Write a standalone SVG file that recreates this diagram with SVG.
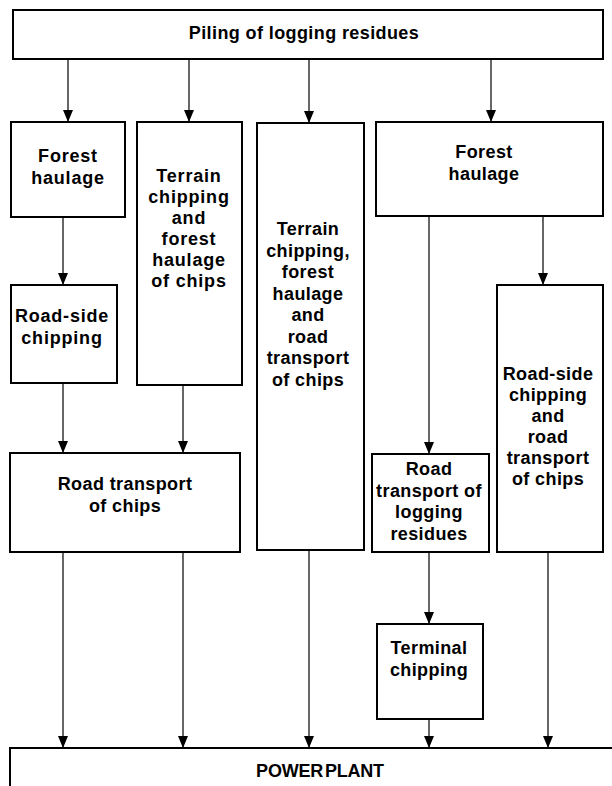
<svg xmlns="http://www.w3.org/2000/svg" width="612" height="786" viewBox="0 0 612 786">
<style>
.box{fill:#fff;stroke:#000;stroke-width:2}
.t{font-family:"Liberation Sans",Arial,sans-serif;font-weight:bold;font-size:18px;text-anchor:middle;fill:#000;letter-spacing:0.4px}
.w{letter-spacing:0.8px}
.c{stroke:#000;stroke-width:1.2;fill:none;marker-end:url(#ah)}
</style>
<defs>
<marker id="ah" viewBox="0 0 12 10" refX="12" refY="5" markerWidth="12" markerHeight="10" markerUnits="userSpaceOnUse" orient="auto">
<path d="M0,0 L12,5 L0,10 z" fill="#000"/>
</marker>
</defs>
<rect width="612" height="786" fill="#fff"/>
<g id="connectors">
<line class="c" x1="68" y1="59" x2="68" y2="122"/>
<line class="c" x1="189" y1="59" x2="189" y2="122"/>
<line class="c" x1="309" y1="59" x2="309" y2="123"/>
<line class="c" x1="491" y1="59" x2="491" y2="122"/>
<line class="c" x1="63" y1="217" x2="63" y2="285"/>
<line class="c" x1="63" y1="383" x2="63" y2="453"/>
<line class="c" x1="183" y1="385" x2="183" y2="453"/>
<line class="c" x1="429" y1="216" x2="429" y2="454"/>
<line class="c" x1="543" y1="216" x2="543" y2="285"/>
<line class="c" x1="63" y1="552" x2="63" y2="748"/>
<line class="c" x1="183" y1="552" x2="183" y2="748"/>
<line class="c" x1="309" y1="550" x2="309" y2="748"/>
<line class="c" x1="429" y1="552" x2="429" y2="624"/>
<line class="c" x1="429" y1="719" x2="429" y2="748"/>
<line class="c" x1="548" y1="552" x2="548" y2="748"/>
</g>
<g id="piling">
<rect class="box" x="13" y="10" width="590" height="49"/>
<text class="t" x="304" y="39">Piling of logging residues</text>
</g>
<g id="forest-haulage-1">
<rect class="box" x="11" y="122" width="114" height="95"/>
<text class="t w" x="68" y="162">Forest</text>
<text class="t w" x="68" y="184">haulage</text>
</g>
<g id="terrain-chipping-1">
<rect class="box" x="137" y="122" width="105" height="263"/>
<text class="t w" x="189" y="182">Terrain</text>
<text class="t w" x="189" y="203">chipping</text>
<text class="t w" x="189" y="224">and</text>
<text class="t w" x="189" y="245">forest</text>
<text class="t w" x="189" y="266">haulage</text>
<text class="t w" x="189" y="287">of chips</text>
</g>
<g id="terrain-chipping-2">
<rect class="box" x="257" y="123" width="107" height="427"/>
<text class="t" x="308" y="235">Terrain</text>
<text class="t" x="308" y="256.5">chipping,</text>
<text class="t" x="308" y="278">forest</text>
<text class="t" x="308" y="299.5">haulage</text>
<text class="t" x="308" y="321">and</text>
<text class="t" x="308" y="342.5">road</text>
<text class="t" x="308" y="364">transport</text>
<text class="t" x="308" y="385.5">of chips</text>
</g>
<g id="forest-haulage-2">
<rect class="box" x="376" y="122" width="227" height="94"/>
<text class="t" x="484" y="158">Forest</text>
<text class="t" x="484" y="180">haulage</text>
</g>
<g id="roadside-chipping">
<rect class="box" x="11" y="285" width="106" height="98"/>
<text class="t w" x="62" y="322">Road-side</text>
<text class="t w" x="62" y="344">chipping</text>
</g>
<g id="roadside-chipping-transport">
<rect class="box" x="497" y="285" width="106" height="267"/>
<text class="t" x="548" y="380">Road-side</text>
<text class="t" x="548" y="401">chipping</text>
<text class="t" x="548" y="422">and</text>
<text class="t" x="548" y="443">road</text>
<text class="t" x="548" y="464">transport</text>
<text class="t" x="548" y="485">of chips</text>
</g>
<g id="road-transport-chips">
<rect class="box" x="10" y="453" width="230" height="99"/>
<text class="t" x="125" y="490">Road transport</text>
<text class="t" x="125" y="512">of chips</text>
</g>
<g id="road-transport-residues">
<rect class="box" x="372" y="454" width="117" height="98"/>
<text class="t" x="429" y="475">Road</text>
<text class="t" x="429" y="496.7">transport of</text>
<text class="t" x="429" y="518.3">logging</text>
<text class="t" x="429" y="540">residues</text>
</g>
<g id="terminal-chipping">
<rect class="box" x="377" y="624" width="106" height="95"/>
<text class="t" x="429" y="654">Terminal</text>
<text class="t" x="429" y="676">chipping</text>
</g>
<g id="power-plant">
<path d="M10,787 V748 H613" fill="none" stroke="#000" stroke-width="2"/>
<text class="t" x="320" y="777" style="letter-spacing:-0.2px;word-spacing:-3px">POWER PLANT</text>
</g>
</svg>
